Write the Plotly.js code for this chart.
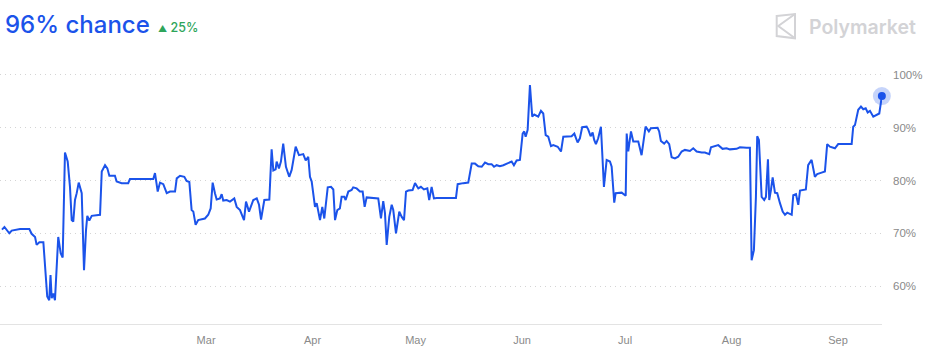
<!DOCTYPE html>
<html>
<head>
<meta charset="utf-8">
<script src="https://cdn.plot.ly/plotly-3.0.1.min.js"></script>
<style>
  html, body { margin: 0; padding: 0; background: #ffffff; }
  #chart { width: 942px; height: 360px; }
</style>
</head>
<body>
<div id="chart"></div>
<script>
// ---- data ----
const dates = [
  "2024-01-01 14:00","2024-01-02 07:00","2024-01-03 17:00","2024-01-04 10:00","2024-01-06 20:00",
  "2024-01-09 13:00","2024-01-10 05:00","2024-01-11 05:00","2024-01-11 16:00","2024-01-12 11:00",
  "2024-01-13 15:00","2024-01-14 02:00","2024-01-14 18:00","2024-01-15 08:00","2024-01-15 17:00",
  "2024-01-16 01:00","2024-01-16 12:00","2024-01-17 00:00","2024-01-17 12:00","2024-01-17 23:00",
  "2024-01-18 16:00","2024-01-19 06:00","2024-01-19 22:00","2024-01-20 17:00","2024-01-21 09:00",
  "2024-01-21 21:00","2024-01-22 08:00","2024-01-22 20:00","2024-01-23 08:00","2024-01-23 22:00",
  "2024-01-24 19:00","2024-01-25 11:00","2024-01-26 01:00","2024-01-26 10:00","2024-01-27 00:00",
  "2024-01-27 17:00","2024-01-30 03:00","2024-01-30 15:00","2024-01-31 14:00","2024-02-01 06:00",
  "2024-02-01 20:00","2024-02-03 11:00","2024-02-03 23:00","2024-02-05 10:00","2024-02-07 08:00",
  "2024-02-07 20:00","2024-02-14 15:00","2024-02-15 03:00","2024-02-15 10:00","2024-02-15 22:00",
  "2024-02-16 14:00","2024-02-17 13:00","2024-02-18 13:00","2024-02-19 12:00","2024-02-20 23:00",
  "2024-02-21 11:00","2024-02-22 10:00","2024-02-23 16:00","2024-02-24 08:00","2024-02-25 03:00",
  "2024-02-25 19:00","2024-02-26 07:00","2024-02-26 23:00","2024-02-27 17:00","2024-02-29 16:00",
  "2024-03-01 15:00","2024-03-02 08:00","2024-03-02 22:00","2024-03-03 14:00","2024-03-04 02:00",
  "2024-03-05 01:00","2024-03-05 13:00","2024-03-06 00:00","2024-03-07 00:00","2024-03-07 23:00",
  "2024-03-09 05:00","2024-03-09 22:00","2024-03-10 21:00","2024-03-12 01:00","2024-03-12 15:00",
  "2024-03-13 12:00","2024-03-14 18:00","2024-03-15 18:00","2024-03-16 10:00","2024-03-17 00:00",
  "2024-03-17 23:00","2024-03-19 10:00","2024-03-20 02:00","2024-03-20 14:00","2024-03-21 06:00",
  "2024-03-21 13:00","2024-03-22 05:00","2024-03-22 19:00","2024-03-23 11:00","2024-03-24 06:00",
  "2024-03-25 05:00","2024-03-25 22:00","2024-03-27 02:00","2024-03-28 01:00","2024-03-29 07:00",
  "2024-03-30 00:00","2024-03-30 18:00","2024-03-31 06:00","2024-03-31 18:00","2024-04-01 17:00",
  "2024-04-02 05:00","2024-04-03 04:00","2024-04-03 20:00","2024-04-04 10:00","2024-04-05 10:00",
  "2024-04-06 09:00","2024-04-07 01:00","2024-04-07 13:00","2024-04-08 05:00","2024-04-08 23:00",
  "2024-04-09 11:00","2024-04-10 06:00","2024-04-10 15:00","2024-04-11 10:00","2024-04-12 09:00",
  "2024-04-12 20:00","2024-04-13 20:00","2024-04-14 19:00","2024-04-15 14:00","2024-04-16 04:00",
  "2024-04-16 18:00","2024-04-20 03:00","2024-04-20 22:00","2024-04-21 14:00","2024-04-22 02:00",
  "2024-04-22 14:00","2024-04-23 08:00","2024-04-24 01:00","2024-04-24 12:00","2024-04-25 07:00",
  "2024-04-26 06:00","2024-04-26 23:00","2024-04-27 15:00","2024-04-28 05:00","2024-04-28 21:00",
  "2024-04-30 03:00","2024-04-30 20:00","2024-05-01 19:00","2024-05-02 13:00","2024-05-03 10:00",
  "2024-05-04 10:00","2024-05-04 23:00","2024-05-05 16:00","2024-05-06 08:00","2024-05-07 03:00",
  "2024-05-12 18:00","2024-05-13 06:00","2024-05-14 21:00","2024-05-16 08:00","2024-05-17 08:00",
  "2024-05-18 07:00","2024-05-19 06:00","2024-05-20 06:00","2024-05-21 05:00","2024-05-22 04:00",
  "2024-05-23 03:00","2024-05-23 20:00","2024-05-24 14:00","2024-05-25 13:00","2024-05-26 13:00",
  "2024-05-27 12:00","2024-05-28 06:00","2024-05-28 23:00","2024-05-29 15:00","2024-05-30 10:00",
  "2024-05-31 09:00","2024-06-01 04:00","2024-06-01 15:00","2024-06-02 01:00","2024-06-02 15:00",
  "2024-06-03 07:00","2024-06-03 23:00","2024-06-04 13:00","2024-06-05 17:00","2024-06-06 12:00",
  "2024-06-07 04:00","2024-06-07 21:00","2024-06-08 15:00","2024-06-09 10:00","2024-06-10 02:00",
  "2024-06-11 09:00","2024-06-12 08:00","2024-06-13 00:00","2024-06-15 10:00","2024-06-16 05:00",
  "2024-06-17 04:00","2024-06-17 20:00","2024-06-18 12:00","2024-06-19 19:00","2024-06-20 06:00",
  "2024-06-20 23:00","2024-06-21 13:00","2024-06-22 00:00","2024-06-22 12:00","2024-06-23 04:00",
  "2024-06-23 23:00","2024-06-24 20:00","2024-06-25 15:00","2024-06-26 14:00","2024-06-27 02:00",
  "2024-06-27 20:00","2024-06-28 06:00","2024-06-30 00:00","2024-07-01 04:00","2024-07-01 11:00",
  "2024-07-01 22:00","2024-07-02 17:00","2024-07-03 09:00","2024-07-04 20:00","2024-07-05 19:00",
  "2024-07-06 23:00","2024-07-07 22:00","2024-07-08 12:00","2024-07-10 11:00","2024-07-10 22:00",
  "2024-07-11 10:00","2024-07-12 09:00","2024-07-13 02:00","2024-07-13 20:00","2024-07-14 13:00",
  "2024-07-15 12:00","2024-07-16 11:00","2024-07-17 11:00","2024-07-18 10:00","2024-07-19 21:00",
  "2024-07-20 20:00","2024-07-21 20:00","2024-07-23 07:00","2024-07-24 06:00","2024-07-25 12:00",
  "2024-07-26 00:00","2024-07-28 03:00","2024-07-29 09:00","2024-07-30 13:00","2024-07-31 12:00",
  "2024-08-02 11:00","2024-08-03 10:00","2024-08-05 09:00","2024-08-06 08:00","2024-08-06 20:00",
  "2024-08-07 12:00","2024-08-08 02:00","2024-08-08 11:00","2024-08-08 23:00","2024-08-09 18:00",
  "2024-08-10 12:00","2024-08-11 00:00","2024-08-11 14:00","2024-08-11 23:00","2024-08-12 11:00",
  "2024-08-12 23:00","2024-08-13 15:00","2024-08-14 07:00","2024-08-15 02:00","2024-08-15 21:00",
  "2024-08-16 13:00","2024-08-17 05:00","2024-08-18 12:00","2024-08-18 23:00","2024-08-19 18:00",
  "2024-08-20 10:00","2024-08-20 22:00","2024-08-22 15:00","2024-08-23 07:00","2024-08-24 07:00",
  "2024-08-25 06:00","2024-08-25 22:00","2024-08-27 05:00","2024-08-28 04:00","2024-08-28 20:00",
  "2024-08-29 15:00","2024-08-31 02:00","2024-09-01 01:00","2024-09-02 12:00","2024-09-04 23:00",
  "2024-09-05 10:00","2024-09-05 22:00","2024-09-06 21:00","2024-09-07 16:00","2024-09-08 08:00",
  "2024-09-09 01:00","2024-09-09 15:00","2024-09-10 07:00","2024-09-11 06:00","2024-09-12 05:00",
  "2024-09-13 00:00","2024-09-13 18:00"
];
const chance = [
  70.7,71.2,70.0,70.5,70.8, 70.8,69.9,69.3,67.8,68.3, 68.3,64.4,58.0,57.3,62.1,
  57.7,58.6,57.3,63.0,69.3, 66.2,65.4,85.3,83.6,78.8, 72.5,72.2,76.3,77.6,79.6,
  77.6,63.0,70.6,73.3,72.4, 73.3,73.5,81.7,82.9,82.3, 80.9,80.9,79.8,79.5,79.5,
  80.3,80.3,81.4,80.1,77.9, 79.6,79.3,77.6,77.9,77.9, 80.4,80.9,80.7,79.9,79.7,
  74.4,74.1,71.6,72.5,72.8, 73.5,74.7,79.6,77.6,76.4, 76.6,77.4,76.2,76.3,76.0,
  76.6,75.0,74.4,72.5,76.0, 74.1,76.3,76.6,75.4,72.6, 76.3,76.4,85.9,81.9,82.1,
  83.6,82.3,83.6,87.0,82.6, 80.7,82.0,86.4,84.8,85.0, 83.8,84.5,80.7,79.8,75.0,
  75.7,72.5,75.0,72.8,78.7, 78.8,78.3,72.5,74.4,74.7, 76.9,76.9,76.3,77.9,78.2,
  78.7,78.5,77.9,77.9,75.0, 76.8,76.6,72.8,76.1,73.8, 67.8,73.1,75.4,74.4,70.0,
  74.1,73.1,72.5,77.9,78.1, 78.2,79.5,78.5,78.8,78.3, 78.5,76.3,78.8,76.6,76.7,
  76.7,79.3,79.5,79.6,83.2, 83.2,82.7,82.6,83.4,83.1, 83.1,82.6,82.9,82.7,82.9,
  83.2,83.4,83.6,82.9,83.8, 83.9,88.9,89.3,88.3,89.6, 98.1,92.1,92.5,92.1,93.2,
  92.7,88.6,88.3,86.5,86.7, 86.4,85.5,88.3,88.4,88.9, 87.2,88.0,90.1,90.2,89.7,
  88.4,89.1,87.7,86.9,88.0, 90.2,78.8,83.9,83.6,82.6, 75.8,77.6,77.7,77.1,88.9,
  85.5,89.3,87.4,87.4,84.8, 90.2,89.3,89.9,90.0,89.3, 87.5,87.0,87.5,86.9,84.4,
  84.2,84.5,85.5,85.8,85.6, 86.1,85.5,85.3,85.3,85.0, 86.3,86.7,86.0,86.1,85.9,
  86.0,86.3,86.2,86.2,64.9, 66.8,76.9,88.4,87.7,76.9, 76.3,76.9,84.0,76.3,78.2,
  80.6,77.7,77.6,75.7,74.1, 73.5,73.9,73.5,77.2,77.4, 75.4,78.1,78.3,82.9,83.9,
  80.7,81.2,81.5,81.7,86.9, 86.4,86.1,86.9,86.9,86.9, 90.2,90.5,93.4,94.0,93.5,
  93.7,92.9,93.2,92.1,92.4, 92.7,96.0
];
const xStart = "2024-01-01 00:00";
const xEnd = "2024-09-13 19:00";
const tickDates = ["2024-03-01","2024-04-01","2024-05-01","2024-06-01","2024-07-01","2024-08-01","2024-09-01"];
const tickLabels = ["Mar","Apr","May","Jun","Jul","Aug","Sep"];
const yTicks = [60,70,80,90,100];
const yTickLabels = ["60%","70%","80%","90%","100%"];
const headline = "96% chance";
const changeText = "25%";
const brand = "Polymarket";

// ---- styling ----
const BLUE = "#1b53ea";
const lastX = dates[dates.length - 1];
const lastY = chance[chance.length - 1];

const traces = [
  {
    x: dates, y: chance, type: "scatter", mode: "lines",
    line: { color: BLUE, width: 2, shape: "linear" },
    hoverinfo: "skip"
  },
  {
    x: [lastX], y: [lastY], type: "scatter", mode: "markers",
    marker: { size: 18, color: "rgba(27,83,234,0.25)" },
    cliponaxis: false, hoverinfo: "skip"
  },
  {
    x: [lastX], y: [lastY], type: "scatter", mode: "markers",
    marker: { size: 8, color: BLUE },
    cliponaxis: false, hoverinfo: "skip"
  }
];

const LOGO = "#d3d3d6";
const layout = {
  width: 942, height: 360,
  margin: { l: 0, r: 60, t: 60, b: 36, pad: 0 },
  paper_bgcolor: "#ffffff", plot_bgcolor: "#ffffff",
  showlegend: false, hovermode: false,
  font: { family: "Liberation Sans, Arial, sans-serif", color: "#8a8a8a", size: 11 },
  xaxis: {
    type: "date", range: [xStart, xEnd],
    showgrid: false, zeroline: false,
    showline: true, linecolor: "#e3e3e3", linewidth: 1,
    tickmode: "array", tickvals: tickDates, ticktext: tickLabels,
    ticks: "", ticklabelstandoff: 6,
    tickfont: { family: "Liberation Sans, Arial, sans-serif", size: 11, color: "#8a8a8a" },
    fixedrange: true
  },
  yaxis: {
    side: "right", range: [52.8, 102.84],
    tickmode: "array", tickvals: yTicks, ticktext: yTickLabels,
    showgrid: true, gridcolor: "#d4d4d4", griddash: "1px,4px", gridwidth: 1,
    zeroline: false, showline: false, ticks: "", ticklabelstandoff: 10,
    tickfont: { family: "Liberation Sans, Arial, sans-serif", size: 11.5, color: "#8a8a8a" },
    fixedrange: true
  },
  annotations: [
    {
      xref: "paper", yref: "paper", x: 0.0035, y: 1.1326, xanchor: "left", yanchor: "middle",
      text: headline, showarrow: false,
      font: { family: "Inter, Noto Sans, sans-serif", size: 24, color: BLUE, weight: 500 }
    },
    {
      xref: "paper", yref: "paper", x: 0.1770, y: 1.125, xanchor: "left", yanchor: "middle",
      text: '<span style="font-size:9px">▲</span> ' + changeText, showarrow: false,
      font: { family: "Inter, Noto Sans, sans-serif", size: 12.5, color: "#2ea55a", weight: 500 }
    },
    {
      xref: "paper", yref: "paper", x: 0.9150, y: 1.125, xanchor: "left", yanchor: "middle",
      text: brand, showarrow: false,
      font: { family: "Inter, Noto Sans, sans-serif", size: 19.5, color: LOGO, weight: 600 }
    }
  ],
  shapes: [
    {
      type: "path", xref: "paper", yref: "paper",
      path: "M 0.88061 1.16667 L 0.90136 1.17424 L 0.90136 1.08220 L 0.88061 1.09091 Z",
      line: { color: LOGO, width: 2 }, fillcolor: "rgba(0,0,0,0)"
    },
    {
      type: "path", xref: "paper", yref: "paper",
      path: "M 0.90136 1.17424 L 0.88243 1.12879 L 0.90136 1.08220",
      line: { color: LOGO, width: 2 }
    }
  ]
};

Plotly.newPlot("chart", traces, layout, { displayModeBar: false, staticPlot: true });
</script>
</body>
</html>
